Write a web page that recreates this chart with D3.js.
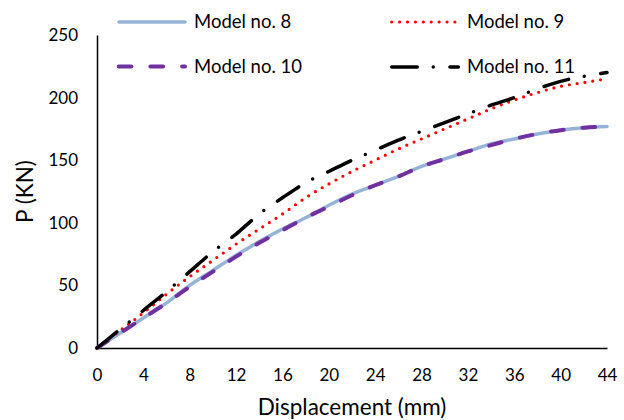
<!DOCTYPE html>
<html>
<head>
<meta charset="utf-8">
<script src="https://cdn.jsdelivr.net/npm/d3@7"></script>
<style>
  html, body { margin: 0; padding: 0; background: #fff; }
  svg text { font-family: Lato, "Open Sans", sans-serif; fill: #000; }
</style>
</head>
<body>
<svg id="chart" width="624" height="420"></svg>
<script>
// Load–displacement curves
const displacement = [0, 2, 4, 6, 8, 10, 12, 14, 16, 18, 20, 22, 24, 26, 28, 30, 32, 34, 36, 38, 40, 42, 44];
const model8  = [0, 12, 24, 36, 50, 62, 74, 85, 95, 104, 114, 123, 130, 137, 145, 151, 157, 163, 167, 171, 174, 176, 177];
const model9  = [0, 14, 28, 43, 57, 70, 83, 95, 107, 120, 131, 141, 150, 159, 167, 175, 183, 191, 198, 204, 209, 212, 215];
const model10 = [0, 12, 24, 36, 49, 61, 73, 84, 94, 104, 113, 122, 130, 137, 145, 151, 157, 162, 167, 171, 174, 176, 177];
const model11 = [0, 15, 30, 45, 61, 77, 91, 107, 120, 132, 141, 150, 158, 166, 173, 180, 187, 194, 200, 207, 213, 217, 220];

const seriesNames = ["Model no. 8", "Model no. 9", "Model no. 10", "Model no. 11"];
const xTicks = [0, 4, 8, 12, 16, 20, 24, 28, 32, 36, 40, 44];
const yTicks = [0, 50, 100, 150, 200, 250];

const series = [
  { name: seriesNames[0], values: model8,  color: "#95b3d7", width: 3.5, dash: null },
  { name: seriesNames[1], values: model9,  color: "#ff0000", width: 3.2, dash: "0 7.9" },
  { name: seriesNames[2], values: model10, color: "#7030a0", width: 4,   dash: "12.7 19" },
  { name: seriesNames[3], values: model11, color: "#000000", width: 3.5, dash: "25.5 16 0 16.7" }
];

const svg = d3.select("#chart");
const margin = { left: 97, right: 17, top: 35, bottom: 72 };
const W = 624, H = 420;

const x = d3.scaleLinear().domain([0, 44]).range([margin.left, W - margin.right]);
const y = d3.scaleLinear().domain([0, 250]).range([H - margin.bottom, margin.top]);

// Axes: plain axis lines with labels, no tick marks
const xAxis = svg.append("g")
  .attr("transform", `translate(0,${y(0)})`)
  .call(d3.axisBottom(x).tickValues(xTicks).tickSize(0).tickPadding(21));
const yAxis = svg.append("g")
  .attr("transform", `translate(${x(0)},0)`)
  .call(d3.axisLeft(y).tickValues(yTicks).tickSize(0).tickPadding(19));

[xAxis, yAxis].forEach(g => {
  g.select(".domain").attr("stroke", "#000").attr("stroke-width", 1.5);
  g.selectAll("text").style("font-size", "17px").style("font-family", "Lato, sans-serif");
});

// Axis titles
svg.append("text")
  .attr("x", (x(0) + x(44)) / 2)
  .attr("y", 415)
  .attr("text-anchor", "middle")
  .style("font-size", "22.5px")
  .text("Displacement (mm)");

svg.append("text")
  .attr("transform", `translate(33,${(y(0) + y(250)) / 2}) rotate(-90)`)
  .attr("text-anchor", "middle")
  .style("font-size", "22.5px")
  .text("P (KN)");

// Curves
const line = d3.line()
  .x((d, i) => x(displacement[i]))
  .y(d => y(d))
  .curve(d3.curveMonotoneX);

svg.append("g").selectAll("path")
  .data(series)
  .join("path")
  .attr("d", s => line(s.values))
  .attr("fill", "none")
  .attr("stroke", s => s.color)
  .attr("stroke-width", s => s.width)
  .attr("stroke-dasharray", s => s.dash)
  .attr("stroke-linecap", "round")
  .attr("stroke-linejoin", "round");

// Legend: two columns, two rows
const legendPos = [
  { x1: 119,   x2: 185,   tx: 194, y: 22 },
  { x1: 391.7, x2: 456,   tx: 467, y: 22 },
  { x1: 118.7, x2: 185,   tx: 194, y: 66.5 },
  { x1: 391.75, x2: 458.3, tx: 467, y: 67 }
];
const legend = svg.append("g").selectAll("g")
  .data(series)
  .join("g");

legend.append("line")
  .attr("x1", (s, i) => legendPos[i].x1)
  .attr("x2", (s, i) => legendPos[i].x2)
  .attr("y1", (s, i) => legendPos[i].y)
  .attr("y2", (s, i) => legendPos[i].y)
  .attr("stroke", s => s.color)
  .attr("stroke-width", s => s.width)
  .attr("stroke-dasharray", s => s.dash)
  .attr("stroke-linecap", "round");

legend.append("text")
  .attr("x", (s, i) => legendPos[i].tx)
  .attr("y", (s, i) => legendPos[i].y)
  .attr("dy", "0.35em")
  .style("font-size", "18.5px")
  .text(s => s.name);
</script>
</body>
</html>
